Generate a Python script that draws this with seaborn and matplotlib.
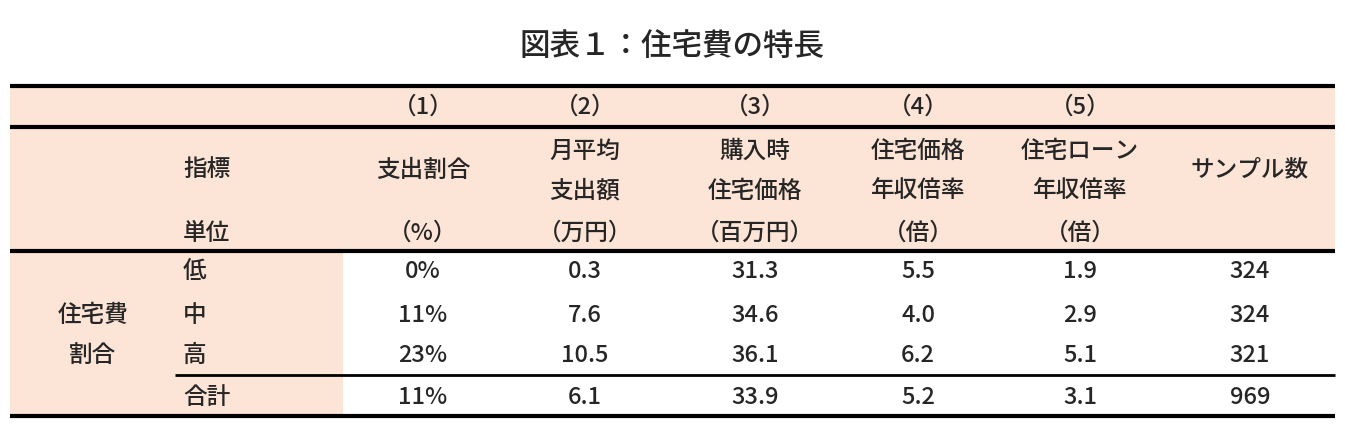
import matplotlib
matplotlib.use("Agg")
import matplotlib.pyplot as plt
import seaborn as sns

sns.set_theme(style="white")
plt.rcParams['font.family'] = ['Noto Sans CJK JP', 'DejaVu Sans']

title = "図表１：住宅費の特長"
col_nums = ["(1)", "(2)", "(3)", "(4)", "(5)", ""]
col_names = [["支出割合"], ["月平均", "支出額"], ["購入時", "住宅価格"],
             ["住宅価格", "年収倍率"], ["住宅ローン", "年収倍率"], ["サンプル数"]]
units = ["（%）", "（万円）", "（百万円）", "（倍）", "（倍）", ""]
row_labels = ["低", "中", "高", "合計"]
share = ["0%", "11%", "23%", "11%"]
monthly = [0.3, 7.6, 10.5, 6.1]
price = [31.3, 34.6, 36.1, 33.9]
price_ratio = [5.5, 4.0, 6.2, 5.2]
loan_ratio = [1.9, 2.9, 5.1, 3.1]
samples = [324, 324, 321, 969]

W, H = 1345, 441
fig = plt.figure(figsize=(W/100, H/100), dpi=100)
ax = fig.add_axes([0, 0, 1, 1])
ax.set_xlim(0, W); ax.set_ylim(H, 0); ax.axis("off")

pink = "#FCE4D6"
L, R = 10, 1335
ax.fill_between([L, R], 86, 251, color=pink, lw=0)
ax.fill_between([L, 343], 251, 416, color=pink, lw=0)
for y, x0 in [(86, L), (127, L), (251, L), (416, L)]:
    ax.plot([x0, R], [y, y], color="black", lw=3, solid_capstyle="butt")
ax.plot([175, R], [375, 375], color="black", lw=2, solid_capstyle="butt")

ax.text(672, 47, title, ha="center", va="center", fontsize=22, fontweight="medium")
fs = 17
fw = "medium"
xs = [423, 585, 755, 918, 1080, 1250]
for x, n, names, u in zip(xs, col_nums, col_names, units):
    ax.text(x, 107, n.replace("(", "（").replace(")", "）") if n else "", ha="center", va="center", fontsize=fs, fontweight=fw)
    if len(names) == 1:
        ax.text(x, 170, names[0], ha="center", va="center", fontsize=fs, fontweight=fw)
    else:
        ax.text(x, 151, names[0], ha="center", va="center", fontsize=fs, fontweight=fw)
        ax.text(x, 191, names[1], ha="center", va="center", fontsize=fs, fontweight=fw)
    ax.text(x, 233, u, ha="center", va="center", fontsize=fs, fontweight=fw)
ax.text(183, 170, "指標", ha="left", va="center", fontsize=fs, fontweight=fw)
ax.text(183, 233, "単位", ha="left", va="center", fontsize=fs, fontweight=fw)
ax.text(93, 315, "住宅費", ha="center", va="center", fontsize=fs, fontweight=fw)
ax.text(93, 355, "割合", ha="center", va="center", fontsize=fs, fontweight=fw)

rows_y = [272, 315, 355, 398]
for i, y in enumerate(rows_y):
    ax.text(183, y, row_labels[i], ha="left", va="center", fontsize=fs, fontweight=fw)
    vals = [share[i], f"{monthly[i]:.1f}", f"{price[i]:.1f}", f"{price_ratio[i]:.1f}",
            f"{loan_ratio[i]:.1f}", str(samples[i])]
    for x, v in zip(xs, vals):
        ax.text(x, y, v, ha="center", va="center", fontsize=fs, fontweight=fw)

fig.savefig("out.png", dpi=100, facecolor="white")
